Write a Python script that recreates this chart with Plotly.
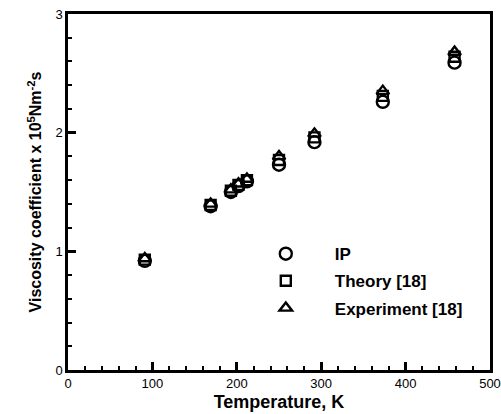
import plotly.graph_objects as go

temperature = [91, 169, 193, 202, 212, 250, 292, 373, 458]
ip = [0.92, 1.38, 1.50, 1.55, 1.59, 1.73, 1.92, 2.26, 2.59]
theory = [0.93, 1.39, 1.51, 1.56, 1.60, 1.77, 1.96, 2.31, 2.64]
experiment = [0.94, 1.40, 1.52, 1.57, 1.61, 1.80, 1.99, 2.35, 2.68]

FONT = "Arial, Liberation Sans, sans-serif"

fig = go.Figure()
series = [("IP", ip, "circle-open"), ("Theory [18]", theory, "square-open"),
          ("Experiment [18]", experiment, "triangle-up-open")]
sizes = {"circle-open": 12, "square-open": 10, "triangle-up-open": 11}
for name, vals, sym in series:
    fig.add_trace(go.Scatter(
        x=temperature, y=vals, mode="markers", name=name, legendgroup=name,
        marker=dict(symbol=sym, size=sizes[sym], color="black",
                    line=dict(color="black", width=2.4)),
    ))

fig.update_layout(
    width=501, height=414,
    margin=dict(l=68, r=11, t=14, b=44),
    paper_bgcolor="white", plot_bgcolor="white",
    font=dict(family=FONT, color="black", size=12),
    showlegend=True,
    legend=dict(x=0.40, y=0.376, xanchor="left", yanchor="top",
                bgcolor="rgba(0,0,0,0)", itemwidth=88, tracegroupgap=2,
                font=dict(family=FONT, size=17, color="black", weight="bold")),
)
fig.update_xaxes(
    range=[0, 500], dtick=100, tick0=0, automargin=False,
    ticks="inside", ticklen=8, tickwidth=2.5, tickcolor="black",
    minor=dict(dtick=20, ticks="inside", ticklen=4, tickwidth=1.8, tickcolor="black"),
    showline=True, linecolor="black", linewidth=2.5, mirror=True,
    showgrid=False, zeroline=False,
    tickfont=dict(family=FONT, size=13, color="black"),
    title=dict(text="Temperature, K", standoff=6,
               font=dict(family=FONT, size=18, color="black", weight="bold")),
)
fig.update_yaxes(
    range=[0, 3], dtick=1, tick0=0, automargin=False,
    ticks="inside", ticklen=8, tickwidth=2.5, tickcolor="black",
    minor=dict(dtick=0.2, ticks="inside", ticklen=4, tickwidth=1.8, tickcolor="black"),
    showline=True, linecolor="black", linewidth=2.5, mirror=True,
    showgrid=False, zeroline=False,
    tickfont=dict(family=FONT, size=13, color="black"),
    title=dict(text="Viscosity coefficient x 10<sup>5</sup>Nm<sup>-2</sup>s", standoff=10,
               font=dict(family=FONT, size=16, color="black", weight="bold")),
)

fig.write_html("out.html")
